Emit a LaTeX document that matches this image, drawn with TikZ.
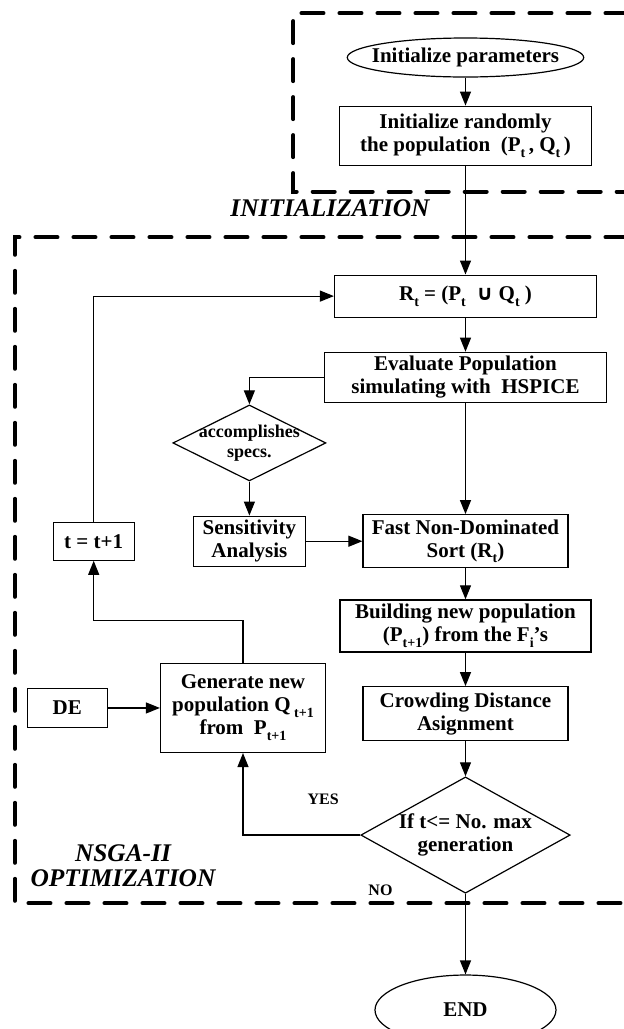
\documentclass[tikz,border=0pt]{standalone}
\usepackage{fontspec}
\setmainfont{Liberation Serif}
\newfontfamily\symfont{DejaVu Sans}
\usepackage{tikz}
\usetikzlibrary{shapes,arrows.meta,positioning}

\newcommand{\lsub}[1]{\raisebox{-0.6ex}{\fontsize{7}{8}\selectfont #1}}

\begin{document}
\begin{tikzpicture}[
    node distance=15pt,
    block/.style={draw, line width=0.6pt, align=center, inner sep=2pt, font=\bfseries\fontsize{10.5}{11.5}\selectfont},
    terminal/.style={block, ellipse, inner xsep=-5pt, inner ysep=0pt},
    decision/.style={block, diamond, aspect=1.8, inner sep=0pt},
    arrow/.style={->, line width=0.6pt, >={Triangle[length=7pt,width=5.5pt]}},
    region/.style={line width=2pt, dash pattern=on 11pt off 8pt, line cap=round},
    regionlabel/.style={font=\bfseries\itshape\fontsize{12.7}{12.5}\selectfont, align=center},
    answer/.style={font=\bfseries\fontsize{8}{9}\selectfont}
]
    \useasboundingbox (-232.75pt,28.75pt) rectangle (79.25pt,-485.75pt);

    % Regiones (cajas punteadas)
    \begin{scope}
        \clip (-232.75pt,28.75pt) rectangle (79.25pt,-485.75pt);
        \draw[region] (100pt,22.1pt) -| (-86.1pt,-67.1pt) -- (100pt,-67.1pt);
        \draw[region] (100pt,-89.9pt) -| (-225.25pt,-422.9pt) -- (100pt,-422.9pt);
    \end{scope}

    % Columna principal
    \node[terminal, minimum width=117.5pt, minimum height=19.5pt] (init) {Initialize parameters};
    \node[block, below=14pt of init, minimum width=126pt, minimum height=29.5pt] (rand) {Initialize randomly\\the population~~(P\lsub{t}\,, Q\lsub{t}\,)};
    \node[block, below=54.35pt of rand, minimum width=131pt, minimum height=21pt] (rt) {R\lsub{t} = (P\lsub{t}~~{\symfont\bfseries ∪}~Q\lsub{t}~)};
    \node[block, below=17pt of rt, minimum width=141pt, minimum height=24.5pt] (eval) {Evaluate Population\\simulating with~~HSPICE};
    \node[block, below=55.5pt of eval, minimum width=102.5pt, minimum height=26.5pt] (fast) {Fast Non-Dominated\\Sort (R\lsub{t})};
    \node[block, below=15.5pt of fast, minimum width=125.5pt, minimum height=26pt] (build) {Building new population\\(P\lsub{t+1}) from the F\lsub{i}’s};
    \node[block, below=16.8pt of build, minimum width=102.5pt, minimum height=27pt] (crowd) {Crowding Distance\\Asignment};
    \node[decision, below=17.5pt of crowd, minimum width=102pt, minimum height=56.5pt] (cond) {If t<= No. max\\generation};
    \node[terminal, below=40.3pt of cond, minimum width=90.5pt, minimum height=35pt] (endn) {END};

    % Columna izquierda
    \node[block, left=28.2pt of fast, minimum width=56pt, minimum height=24pt] (sens) {Sensitivity\\Analysis};
    \node[decision, above=17pt of sens, aspect=2, inner sep=-2.5pt, minimum width=76.5pt, minimum height=38pt, font=\bfseries\fontsize{9}{10}\selectfont] (acc) {accomplishes\\specs.};
    \node[block, left=29pt of sens, minimum width=40.5pt, minimum height=19pt] (tt) {t = t+1};
    \node[block, below=48pt of sens, xshift=-3.2pt, minimum width=82.5pt, minimum height=44.5pt] (gen) {Generate new\\population Q\,\lsub{t+1}\\from~~P\lsub{t+1}};
    \node[block, left=26pt of gen, minimum width=40pt, minimum height=19.5pt] (de) {DE};

    % Etiquetas
    \node[regionlabel] (initlbl) at (-67.75pt,-75.25pt) {INITIALIZATION};
    \node[regionlabel] (optlbl) at (-171.25pt,-404.15pt) {NSGA-II\\OPTIMIZATION};
    \node[answer] (yes) at ([xshift=-18.5pt,yshift=18pt]cond.west) {YES};
    \node[answer] (no) at ([xshift=-42.5pt,yshift=2pt]cond.south) {NO};

    % Arrows
    \draw[arrow] (init) -- (rand);
    \draw[arrow] (rand) -- (rt);
    \draw[arrow] (rt) -- (eval);
    \draw[arrow] (eval) -- (fast);
    \draw[arrow] (eval.west) -| (acc.north);
    \draw[arrow] (acc) -- (sens);
    \draw[arrow] (sens) -- (fast);
    \draw[arrow] (fast) -- (build);
    \draw[arrow] (build) -- (crowd);
    \draw[arrow] (crowd) -- (cond);
    \draw[arrow] (cond.west) -| (gen.south);
    \draw[arrow] (gen.north) -- ++(0,21pt) -| (tt.south);
    \draw[arrow] (tt.north) |- (rt.west);
    \draw[arrow] (de) -- (gen);
    \draw[arrow] (cond) -- (endn);

\end{tikzpicture}
\end{document}
